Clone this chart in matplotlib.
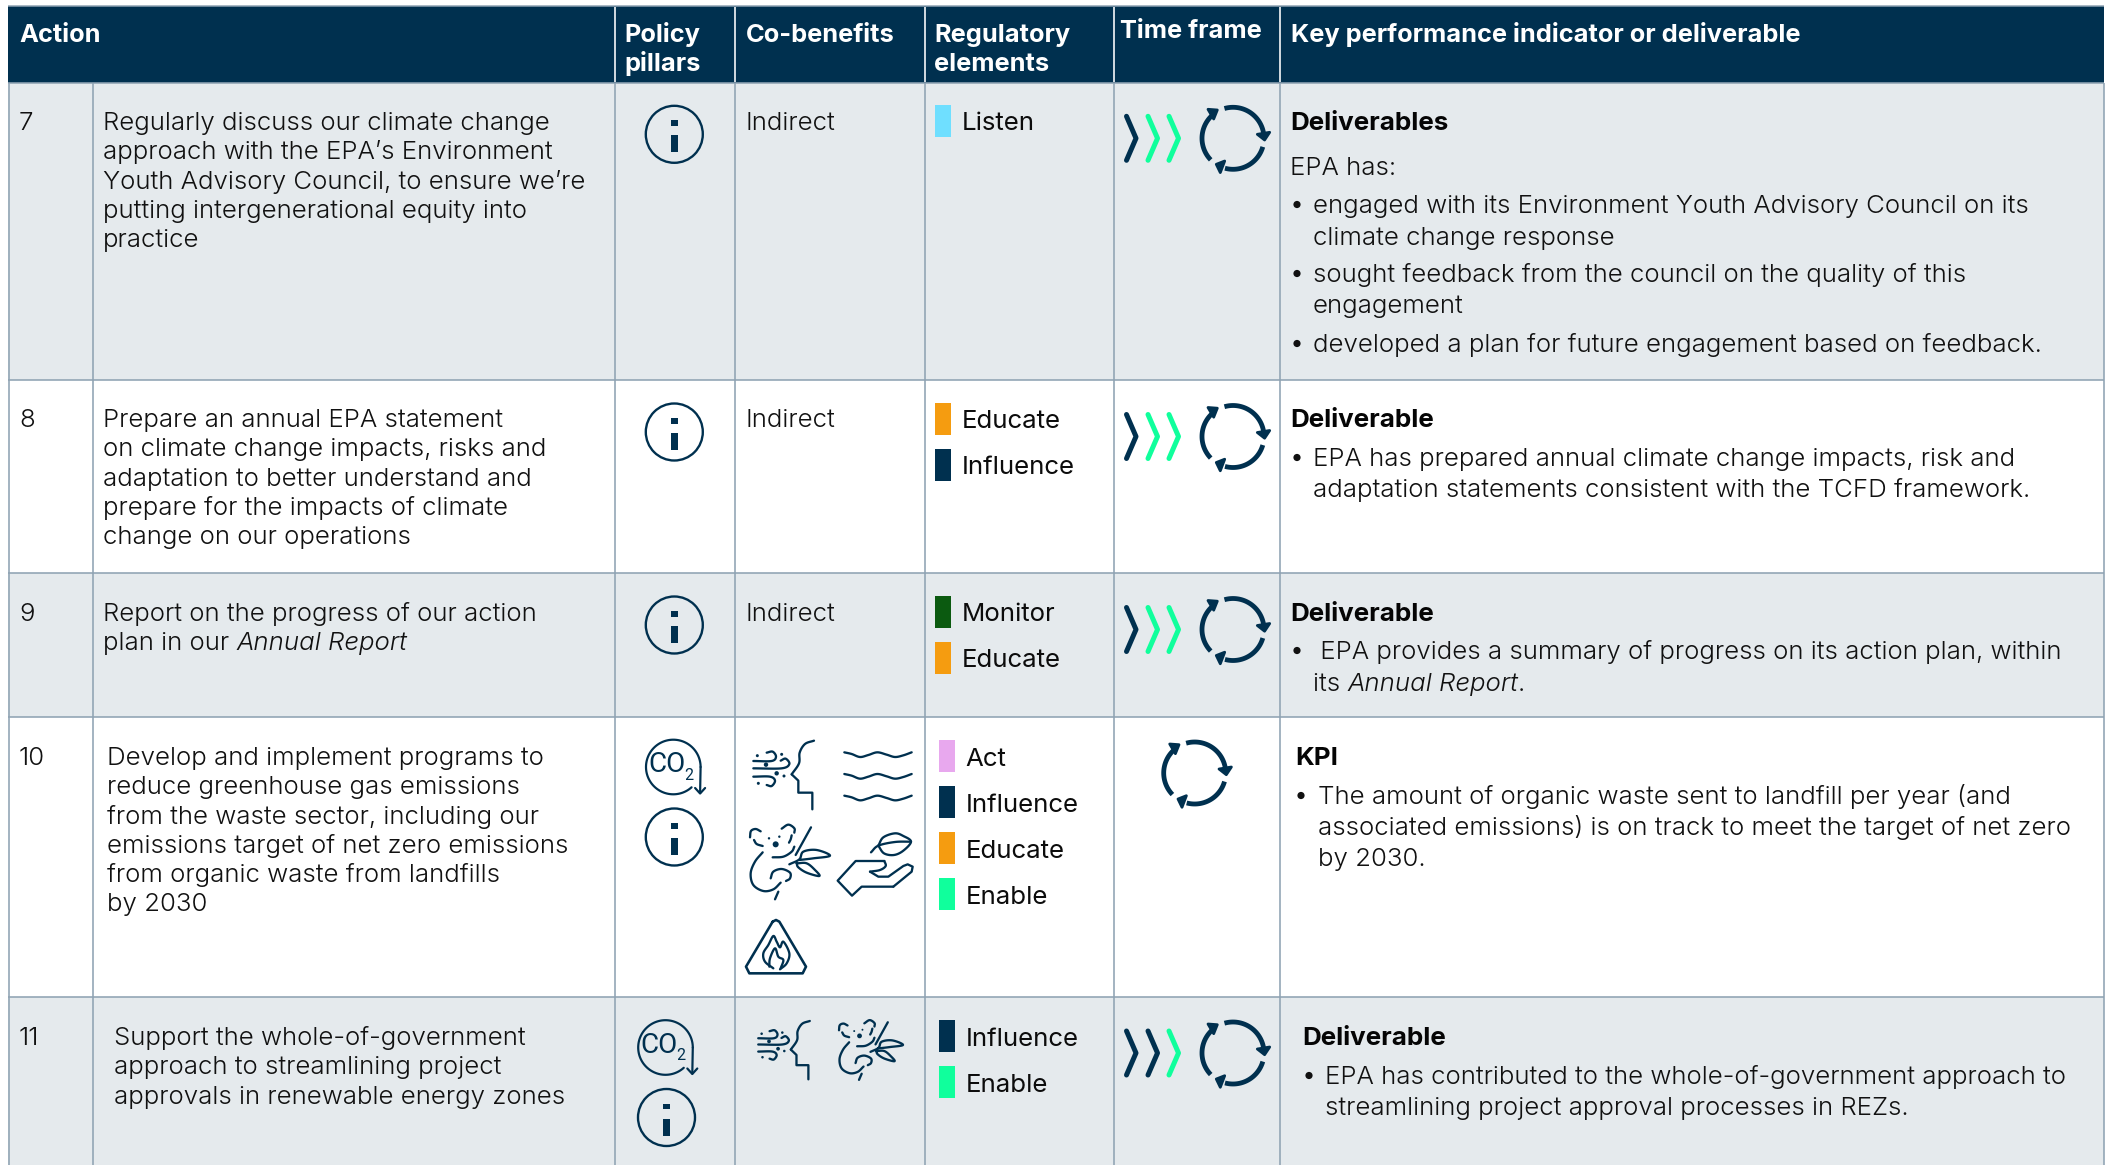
import numpy as np
import matplotlib
matplotlib.use("Agg")
import matplotlib.pyplot as plt
from matplotlib.patches import Rectangle, Circle, Polygon

# ---------- content ----------
HEADERS = [("Action", None), ("Policy", "pillars"), ("Co-benefits", None),
           ("Regulatory", "elements"), ("Time frame", None),
           ("Key performance indicator or deliverable", None)]
ROW_NUMBERS = ["7", "8", "9", "10", "11"]
ACTIONS = [
    ["Regularly discuss our climate change", "approach with the EPA\u2019s Environment",
     "Youth Advisory Council, to ensure we\u2019re", "putting intergenerational equity into", "practice"],
    ["Prepare an annual EPA statement", "on climate change impacts, risks and",
     "adaptation to better understand and", "prepare for the impacts of climate",
     "change on our operations"],
    ["Report on the progress of our action", "plan in our |Annual Report"],
    ["Develop and implement programs to", "reduce greenhouse gas emissions",
     "from the waste sector, including our", "emissions target of net zero emissions",
     "from organic waste from landfills", "by 2030"],
    ["Support the whole-of-government", "approach to streamlining project",
     "approvals in renewable energy zones"],
]
COBENEFIT_TEXT = ["Indirect", "Indirect", "Indirect", None, None]
REG_ELEMENTS = [["Listen"], ["Educate", "Influence"], ["Monitor", "Educate"],
                ["Act", "Influence", "Educate", "Enable"], ["Influence", "Enable"]]
CHEVRON_GREEN = [[0, 1, 1], [0, 1, 1], [0, 1, 1], None, [0, 0, 1]]
KPI_TITLES = ["Deliverables", "Deliverable", "Deliverable", "KPI", "Deliverable"]
KPI_INTRO = "EPA has:"
KPI_LINES = [
    [["engaged with its Environment Youth Advisory Council on its", "climate change response"],
     ["sought feedback from the council on the quality of this", "engagement"],
     ["developed a plan for future engagement based on feedback."]],
    [["EPA has prepared annual climate change impacts, risk and",
      "adaptation statements consistent with the TCFD framework."]],
    [[" EPA provides a summary of progress on its action plan, within", "its |Annual Report|."]],
    [["The amount of organic waste sent to landfill per year (and",
      "associated emissions) is on track to meet the target of net zero", "by 2030."]],
    [["EPA has contributed to the whole-of-government approach to",
      "streamlining project approval processes in REZs."]],
]

# ---------- style ----------
NAVY = "#00304f"
GREEN = "#10ff9c"
BAND = "#e5eaed"
GRID = "#8fa3b3"
INK = "#111111"
REG_COLORS = {"Listen": "#6fdfff", "Educate": "#f59c10", "Influence": NAVY,
              "Monitor": "#0b5a10", "Act": "#e8a8ee", "Enable": GREEN}
FONT = "Inter"
FS_BODY = 18.6
FS_KPI = 18.6
FS_REG = 18.6
FS_HEAD = 18.3
FS_TITLE = 18.7

COLS = [8.5, 92.5, 614.5, 735, 925, 1113.5, 1280, 2104]
ROWS = [83, 380, 573, 717, 997, 1165]
BASE = [130, 427, 621, 765, 1045]
LH = 29.3

fig = plt.figure(figsize=(21.09, 11.65), dpi=100, facecolor="white")
ax = fig.add_axes([0, 0, 1, 1])
ax.set_xlim(0, 2109)
ax.set_ylim(1165, 0)
ax.axis("off")


def line(xs, ys, color=NAVY, lw=2.2, z=5, cap="round", join="round"):
    ax.plot(xs, ys, color=color, lw=lw * 0.72, zorder=z, solid_capstyle=cap,
            solid_joinstyle=join)


def smooth(pts, n=12):
    p = np.array(pts, float)
    p = np.vstack([2 * p[0] - p[1], p, 2 * p[-1] - p[-2]])
    out = []
    for i in range(1, len(p) - 2):
        p0, p1, p2, p3 = p[i - 1], p[i], p[i + 1], p[i + 2]
        for t in np.linspace(0, 1, n, endpoint=False):
            out.append(0.5 * (2 * p1 + (p2 - p0) * t + (2 * p0 - 5 * p1 + 4 * p2 - p3) * t ** 2
                              + (3 * p1 - p0 - 3 * p2 + p3) * t ** 3))
    out.append(p[-2])
    return np.array(out)


def txt(x, y, s, size=FS_BODY, weight=300, style="normal", color=INK):
    return ax.text(x, y, s, fontsize=size, fontweight=weight, fontstyle=style, color=color,
                   family=FONT, va="baseline", ha="left", zorder=6)


def rich(x, y, s, size=FS_BODY):
    """Text with |italic| stretches, placed one after the other."""
    parts = s.split("|")
    r = fig.canvas.get_renderer()
    for i, part in enumerate(parts):
        if not part:
            continue
        t = txt(x, y, part, size, style="italic" if i % 2 else "normal")
        x = t.get_window_extent(r).x1


# ---------- table grid ----------
ax.add_patch(Rectangle((8, 6), 2096, 77, fc=NAVY, ec="none", zorder=1))
line([8, 2104], [6, 6], color=GRID, lw=1.5, z=2, cap="butt")
for i in range(5):
    ax.add_patch(Rectangle((8, ROWS[i]), 2096, ROWS[i + 1] - ROWS[i],
                           fc=BAND if i % 2 == 0 else "white", ec="none", zorder=1))
for y in ROWS[:-1]:
    line([8, 2104], [y, y], color=GRID, lw=1.6, z=2, cap="butt")
for i, x in enumerate(COLS):
    line([x, x], [83, 1165], color=GRID, lw=1.6, z=2, cap="butt")
    if 2 <= i <= 6:
        line([x, x], [7, 82], color="white", lw=1.6, z=2, cap="butt")

# ---------- header ----------
HEAD_X = [19, 624.5, 745.5, 934, 1120.5, 1291]
HEAD_Y = [42, 42, 42, 42, 38, 42]
for (a, b), x, y in zip(HEADERS, HEAD_X, HEAD_Y):
    txt(x, y, a, FS_HEAD, "bold", color="white")
    if b:
        txt(x, y + 29, b, FS_HEAD, "bold", color="white")

# ---------- icons ----------


def info(cx, cy):
    ax.add_patch(Circle((cx, cy), 28.5, fc="none", ec=NAVY, lw=1.7, zorder=5))
    ax.add_patch(Rectangle((cx - 3.5, cy + 1), 7, 17, fc=NAVY, ec="none", zorder=5))
    ax.add_patch(Rectangle((cx - 3.5, cy - 14), 7, 5.5, fc=NAVY, ec="none", zorder=5))


def co2(cx, cy):
    t = np.radians(np.linspace(48, 360, 90))
    r = 27.3
    line(cx + r * np.cos(t), cy + r * np.sin(t), lw=2.2)
    ex = cx + r
    line([ex, ex - 0.5], [cy, cy + 26], lw=2.2)
    line([ex - 5.5, ex - 0.5, ex + 4.5], [cy + 21, cy + 26.5, cy + 21], lw=2.2)
    ax.text(cx - 6.5, cy - 2, "CO", fontsize=20, color=NAVY, family="Roboto", ha="center",
            va="center", zorder=6)
    ax.text(cx + 15.5, cy + 8, "2", fontsize=11.5, color=NAVY, family="Roboto", ha="center",
            va="center", zorder=6)


def cycle(cx, cy):
    r = 31
    lw = 4.8
    arcs = [(254, 352, [(24.3, -4), (36.7, -6), (31.6, 1.7)]),
            (16, 105, [(-16.7, 26), (-8.3, 22.7), (-12.7, 34.3)]),
            (136, 232, [(-25, -29), (-15.7, -28.3), (-19.3, -19.3)])]
    for a0, a1, head in arcs:
        t = np.radians(np.linspace(a0, a1, 40))
        line(cx + r * np.cos(t), cy + r * np.sin(t), lw=lw, cap="butt")
        ax.add_patch(Polygon([(cx + a, cy + b) for a, b in head], closed=True, fc=NAVY, ec=NAVY,
                             lw=2, joinstyle="round", zorder=5))


def chevrons(cy, greens):
    for x0, g in zip([1125, 1146.5, 1167.5], greens):
        line([x0 + 1.5, x0 + 11, x0 + 1.5], [cy - 22, cy, cy + 22], color=GREEN if g else NAVY, lw=5)


def z4(pts, ox=740, oy=730):
    return np.array(pts, float) / 3 + [ox, oy]


def draw(px, tf=None, closed=False, is_smooth=True, lw=2.3):
    p = np.array(px, float)
    if closed:
        p = np.vstack([p, p[:1]])
    if is_smooth:
        p = smooth(p)
    if tf:
        p = (p - tf[0]) * tf[2] + tf[1]
    line(p[:, 0], p[:, 1], lw=lw)


def dot(px, r, tf=None):
    p = np.array(px, float)
    if tf:
        p = (p - tf[0]) * tf[2] + tf[1]
        r = r * tf[2]
    ax.add_patch(Circle(p, r, fc=NAVY, ec="none", zorder=5))


def face(tf=None):
    draw(z4([(222, 32), (195, 42), (179, 68), (177, 100), (155, 133)]), tf)
    draw(z4([(155, 133), (175, 152), (175, 188), (217, 188), (217, 238)]), tf, is_smooth=False)
    draw(z4([(40, 93), (95, 93), (108, 80), (98, 65), (80, 68)]), tf)
    draw(z4([(40, 115), (125, 115), (148, 102), (137, 86), (122, 92)]), tf)
    draw(z4([(40, 140), (90, 140), (105, 152), (95, 168), (80, 165)]), tf)
    for p, r in [((52, 77), 1.5), ((125, 73), 1.5), ((78, 104), 2.2), ((110, 130), 2.2),
                 ((55, 160), 1.5), ((132, 138), 1.5)]:
        dot(z4([p])[0], r, tf)


def waves():
    for dy in [0, 65, 130]:
        draw(z4([(313, 67 + dy), (335, 72 + dy), (360, 81 + dy), (385, 75 + dy), (412, 67 + dy),
                 (440, 74 + dy), (465, 81 + dy), (490, 76 + dy), (515, 67 + dy)]))


def koala(tf=None):
    draw(z4([(30, 322), (33, 303), (47, 297), (62, 304)]), tf)
    draw(z4([(42, 330), (50, 342), (68, 348)]), tf)
    draw(z4([(125, 296), (145, 284), (163, 295), (163, 308)]), tf)
    draw(z4([(155, 316), (152, 328), (147, 338)]), tf)
    dot(z4([(107, 343)])[0], 3.0, tf)
    dot(z4([(87, 325)])[0], 1.2, tf)
    dot(z4([(118, 320)])[0], 1.2, tf)
    draw(z4([(68, 367), (45, 395), (32, 430), (40, 465), (70, 483), (100, 478), (122, 458)]), tf)
    draw(z4([(92, 445), (100, 425), (125, 417), (150, 428), (150, 445), (138, 453)]), tf)
    draw(z4([(98, 382), (130, 380), (155, 365), (163, 350)]), tf)
    draw(z4([(213, 292), (167, 375)]), tf, is_smooth=False)
    draw(z4([(148, 403), (178, 388), (190, 365), (230, 360), (270, 377), (220, 385), (178, 390)]), tf)
    draw(z4([(170, 400), (200, 400), (225, 420), (238, 438), (200, 428), (175, 412), (170, 400)]), tf)
    draw(z4([(115, 485), (105, 508)]), tf, is_smooth=False)


def hand():
    draw(z4([(433, 393), (347, 393), (293, 452), (336, 497), (365, 470), (460, 470)]), is_smooth=False)
    draw(z4([(460, 470), (515, 425), (518, 410), (503, 403), (490, 408), (445, 440), (415, 440),
             (390, 425)]), is_smooth=False)
    draw(z4([(390, 425), (420, 420), (437, 408), (433, 393)]))
    draw(z4([(393, 367), (415, 347), (465, 336), (513, 335)]))
    draw(z4([(415, 347), (430, 322), (465, 310), (490, 318), (513, 335), (490, 362), (462, 375),
             (432, 370), (415, 347)]))


def fire():
    draw(z4([(98, 335), (18, 470), (28, 490), (188, 490), (198, 470), (118, 335), (108, 330), (98, 335)],
            740, 810), is_smooth=False, lw=2.6)
    draw(z4([(100, 475), (75, 455), (70, 430), (85, 405), (100, 378), (110, 395), (120, 412), (130, 395),
             (148, 430), (140, 460), (120, 478)], 740, 810))
    draw(z4([(88, 470), (90, 445), (105, 415), (115, 440), (130, 450), (122, 475)], 740, 810))


for cy in [134.3, 432, 625, 837]:
    info(674.3, cy)
info(666.5, 1117.5)
co2(673.3, 767)
co2(665.5, 1047.5)

for cy, x in zip([138.3, 436.5, 629.5, 773, 1053], [1233, 1233, 1233, 1194.7, 1233]):
    cycle(x, cy)
for cy, g in zip([138.3, 436.5, 629.5, 773, 1053], CHEVRON_GREEN):
    if g:
        chevrons(cy, g)

face()
waves()
koala()
hand()
fire()
face((np.array([814, 740.7]), np.array([809.8, 1021]), 0.85))
koala((np.array([750, 827]), np.array([839, 1022]), 0.8))

# ---------- body text ----------
ACTION_X = [103, 103, 103, 107, 114]
REG_X = [(935, 961.5), (935, 961.5), (935, 961.5), (939, 965.5), (939, 965.5)]
REG_TOP = [[105], [403, 449], [596, 642], [740, 786, 832, 878], [1020, 1066]]
REG_DY = [24.5, 24.5, 25.2, 25.5, 25.5]
KPI_X = [1290, 1290, 1290, 1295, 1302]
KPI_BULLET = [1297, 1297, 1297, 1301, 1309]
KPI_TEXT = [1313, 1313, 1313, 1318, 1325]
KPI_Y = [[213, 245, 282, 313, 352], [466, 497], [659, 691], [804, 835, 866], [1084, 1115]]

for i in range(5):
    txt(19, BASE[i], ROW_NUMBERS[i])
    for k, s in enumerate(ACTIONS[i]):
        rich(ACTION_X[i], BASE[i] + k * LH, s)
    if COBENEFIT_TEXT[i]:
        txt(745, BASE[i], COBENEFIT_TEXT[i])
    sx, tx = REG_X[i]
    for name, top in zip(REG_ELEMENTS[i], REG_TOP[i]):
        ax.add_patch(Rectangle((sx, top), 15.5, 32, fc=REG_COLORS[name], ec="none", zorder=3))
        txt(tx, top + REG_DY[i], name, FS_REG, "normal", color="#0c0c0c")
    txt(KPI_X[i], BASE[i], KPI_TITLES[i], FS_TITLE, "bold", color="#050505")
    if i == 0:
        txt(KPI_X[i], 175, KPI_INTRO, FS_KPI)
    n = 0
    for bullet in KPI_LINES[i]:
        ax.add_patch(Circle((KPI_BULLET[i], KPI_Y[i][n] - 8.5), 3.6, fc="#111111", ec="none", zorder=6))
        for s in bullet:
            rich(KPI_TEXT[i], KPI_Y[i][n], s, FS_KPI)
            n += 1

fig.savefig("out.png", dpi=100, facecolor="white")
